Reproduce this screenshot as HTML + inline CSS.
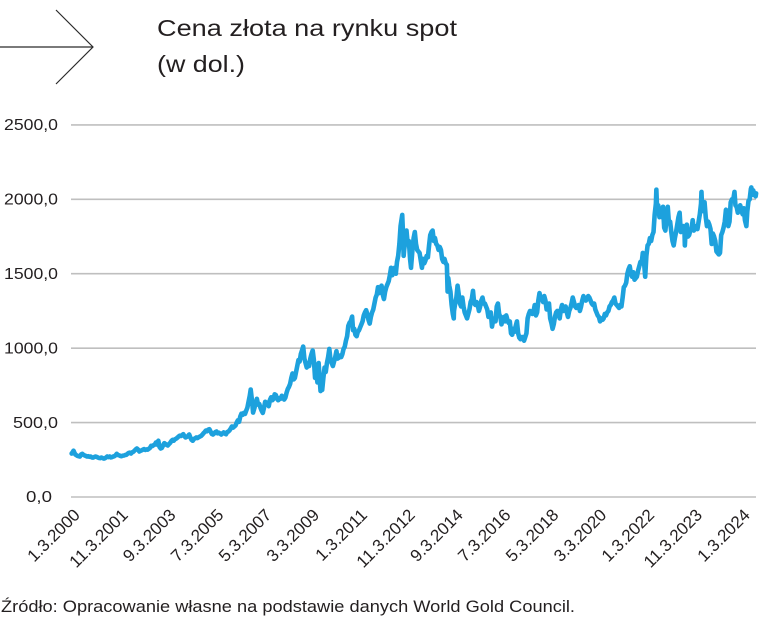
<!DOCTYPE html>
<html><head><meta charset="utf-8"><style>
html,body{margin:0;padding:0;background:#fff;}
svg{display:block;}
text{font-family:"Liberation Sans",sans-serif;fill:#231f20;}
</style></head><body>
<svg width="760" height="619" viewBox="0 0 760 619" xmlns="http://www.w3.org/2000/svg">
<rect width="760" height="619" fill="#fff"/>
<g stroke="#2b2b2b" stroke-width="1.2" fill="none">
<line x1="0" y1="47" x2="93" y2="47"/>
<polyline points="56,10 93,47 56,84"/>
</g>
<text x="157" y="36" font-size="23.5" textLength="300" lengthAdjust="spacingAndGlyphs">Cena złota na rynku spot</text>
<text x="157" y="72" font-size="23.5" textLength="88" lengthAdjust="spacingAndGlyphs">(w dol.)</text>
<g stroke="#bfbfbf" stroke-width="1.6">
<line x1="71" y1="124.9" x2="756" y2="124.9"/>
<line x1="71" y1="199.3" x2="756" y2="199.3"/>
<line x1="71" y1="273.7" x2="756" y2="273.7"/>
<line x1="71" y1="348.2" x2="756" y2="348.2"/>
<line x1="71" y1="422.6" x2="756" y2="422.6"/>
<line x1="71" y1="497" x2="756" y2="497"/>
</g>
<g font-size="16" text-anchor="end">
<text x="58" y="130" textLength="54" lengthAdjust="spacingAndGlyphs">2500,0</text>
<text x="58" y="204.5" textLength="54" lengthAdjust="spacingAndGlyphs">2000,0</text>
<text x="58" y="279" textLength="54" lengthAdjust="spacingAndGlyphs">1500,0</text>
<text x="58" y="353.5" textLength="54" lengthAdjust="spacingAndGlyphs">1000,0</text>
<text x="58" y="428" textLength="45" lengthAdjust="spacingAndGlyphs">500,0</text>
<text x="52" y="502" textLength="26" lengthAdjust="spacingAndGlyphs">0,0</text>
</g>
<g transform="translate(74,497) scale(2.375,-0.14884)">
<polyline fill="none" stroke="#1da1dd" stroke-width="4.6" stroke-linejoin="round" stroke-linecap="round" vector-effect="non-scaling-stroke" points="
-1,292 -0.6,300 -0.2,311 0.2,296 0.6,285 1,281 1.5,276 2,274 2.5,272 3,286 3.5,290 4,283 4.5,279 5,276 5.5,272 6,274 6.5,270 7,272 7.5,266 8,265 8.5,268 9,272 9.5,270
10,266 10.5,262 11,261 11.5,265 12,262 12.5,258 13,260 13.5,266 14,272 14.5,268 15,272 15.5,266 16,268 16.5,272 17,274 17.5,280 18,290 18.5,282 19,280 19.5,276 20,274 20.5,278 21,278 21.5,282
22,283 22.5,290 23,296 23.5,298 24,292 24.5,300 25,304 25.5,312 26,320 26.5,326 27,318 27.5,306 28,310 28.5,314 29,318 29.5,322 30,316 30.5,320 31,318 31.5,324 32,330 32.5,344 33,342 33.5,348
34,352 34.5,366 35,352 35.5,378 36,336 36.5,326 37,330 37.5,346 38,362 38.5,356 39,350 39.5,346 40,356 40.5,364 41,376 41.5,384 42,378 42.5,388 43,392 43.5,398 44,406 44.5,412 45,410 45.5,416
46,422 46.5,408 47,400 47.5,404 48,410 48.5,420 49,400 49.5,384 50,378 50.5,390 51,394 51.5,400 52,396 52.5,402 53,406 53.5,410 54,418 54.5,428 55,436 55.5,446 56,442 56.5,452 57,456 57.5,440
58,424 58.5,420 59,426 59.5,436 60,440 60.5,428 61,432 61.5,426 62,420 62.5,428 63,434 63.5,426 64,422 64.5,436 65,440 65.5,448 66,460 66.5,474 67,466 67.5,474 68,480 68.5,500 69,515 69.5,505
70,540 70.5,560 71,552 71.5,565 72,558 72.5,580 73,600 73.5,640 74,680 74.4,722 75,640 75.4,567 76,600 76.5,635 77,660 77.5,620 78,625 78.5,600 79,580 79.5,565 80,600 80.5,640 81,625 81.5,635
82,610 82.5,652 83,670 83.5,650 84,660 84.5,690 85,685 85.5,660 86,650 86.5,665 87,660 87.5,680 88,670 88.5,655 89,668 89.5,700 90,725 90.5,740 91,760 91.5,800 92,830 92.5,790 93,800 93.5,840
94,880 94.5,920 95,910 95.5,960 96,985 96.5,1011 97,930 97.5,900 98,870 98.5,900 99,880 99.5,930 100,960 100.5,985 101,920 101.5,800 102,830 102.5,770 103,900 103.5,780 103.8,712 104,750 104.5,720 105,800 105.5,870
106,840 106.5,900 107,940 107.5,995 108,920 108.5,900 109,880 109.5,910 110,940 110.5,980 111,930 111.5,935 112,950 112.5,940 113,960 113.5,995 114,1010 114.5,1050 115,1080 115.5,1150 116,1170 116.5,1180 117.1,1212 117.5,1120
118,1130 118.5,1090 119,1080 119.5,1110 120,1120 120.5,1140 121,1160 121.5,1180 122,1220 122.5,1240 123,1255 123.5,1230 124,1190 124.5,1165 125,1210 125.5,1240 126,1260 126.5,1300 127,1340 127.5,1360 128,1410 128.5,1370 129,1400 129.5,1420
130,1360 130.5,1330 131,1380 131.5,1410 132,1430 132.5,1450 133,1490 133.5,1540 134,1490 134.5,1530 135,1540 135.5,1500 136,1580 136.5,1620 137,1700 137.5,1820 138.2,1895 138.5,1780 138.8,1620 139,1660 139.5,1720 140,1790 140.5,1700 141,1720 141.5,1600 141.9,1540
142,1560 142.5,1660 143,1740 143.5,1780 144,1700 144.5,1660 145,1650 145.5,1640 146,1590 146.5,1540 147,1600 147.5,1570 148,1590 148.5,1620 149,1610 149.5,1690 150,1760 150.5,1780 151,1790 151.5,1720 152,1740 152.5,1700 153,1690 153.5,1660
154,1680 154.5,1660 155,1600 155.5,1580 156,1600 156.5,1570 157,1560 157.3,1380 157.6,1470 158,1420 158.5,1380 159,1290 159.5,1230 159.9,1200 160,1250 160.5,1300 161,1340 161.5,1420 162,1360 162.5,1300 163,1280 163.5,1340 164,1280 164.5,1240 165,1220 165.5,1200
166,1230 166.5,1260 167,1310 167.5,1330 168,1385 168.5,1300 169,1290 169.5,1310 170,1290 170.5,1250 171,1280 171.5,1320 172,1340 172.5,1300 173,1300 173.5,1280 174,1260 174.5,1210 175,1220 175.5,1240 176,1145 176.5,1190 177,1200 177.5,1180
178,1280 178.5,1300 179,1230 179.5,1210 180,1160 180.5,1200 181,1210 181.5,1180 182,1220 182.5,1190 183,1170 183.5,1180 184,1100 184.5,1090 185,1130 185.5,1110 186,1150 186.5,1180 187,1100 187.5,1070 188,1060 188.5,1075 189,1075 189.5,1050
190,1075 190.5,1100 191,1200 191.5,1230 192,1250 192.5,1240 193,1230 193.5,1250 194,1290 194.5,1220 195,1240 195.5,1320 196,1370 196.5,1330 197,1340 197.5,1310 198,1350 198.5,1320 199,1260 199.5,1270 200,1300 200.5,1200 201,1170 201.5,1130
202,1160 202.5,1210 203,1240 203.5,1250 204,1230 204.5,1200 205,1260 205.5,1290 206,1250 206.5,1260 207,1280 207.5,1240 208,1210 208.5,1250 209,1270 209.5,1300 210,1340 210.5,1310 211,1280 211.5,1270 212,1280 212.5,1290 213,1250 213.5,1280
214,1320 214.5,1350 215,1330 215.5,1320 216,1330 216.5,1350 217,1340 217.5,1320 218,1300 218.5,1290 219,1300 219.5,1260 220,1240 220.5,1220 221,1210 221.5,1180 222,1200 222.5,1190 223,1200 223.5,1230 224,1220 224.5,1240 225,1250 225.5,1280
226,1290 226.5,1310 227,1320 227.5,1340 228,1300 228.5,1290 229,1280 229.5,1270 230,1290 230.5,1280 231,1340 231.5,1410 232,1420 232.5,1440 233,1500 233.5,1530 234,1550 234.5,1500 235,1480 235.5,1510 236,1460 236.5,1470 237,1480 237.5,1520
238,1550 238.5,1580 239,1570 239.5,1640 240,1580 240.5,1480 241,1620 241.5,1690 242,1700 242.5,1740 243,1720 243.5,1760 244,1780 244.5,1900 245,1970 245.2,2065 245.5,1940 246,1960 246.5,1880 247,1900 247.5,1880 248,1950 248.5,1810 249,1790 249.5,1870
250,1950 250.5,1840 251,1850 251.5,1780 252,1720 252.5,1690 253,1740 253.5,1780 254,1830 254.5,1880 255,1910 255.5,1780 256,1790 256.5,1820 257,1810 257.2,1690 257.5,1780 258,1830 258.5,1750 259,1760 259.5,1790 260,1800 260.5,1860 261,1790 261.5,1810
262,1820 262.5,1800 263,1850 263.5,1900 264,1970 264.2,2050 264.5,1920 265,1940 265.5,1980 266,1880 266.5,1820 267,1850 267.5,1830 268,1800 268.5,1700 269,1770 269.5,1750 270,1720 270.5,1650 271,1640 271.5,1630 272,1640 272.5,1760 273,1780 273.5,1810
274,1850 274.5,1930 275,1880 275.5,1820 276,1850 276.5,1980 277,2000 277.5,1990 278.1,2050 278.5,1960 279,1950 279.5,1910 280,1930 280.5,1960 281,1930 281.5,1900 282,1940 282.5,1860 283.1,1820 283.5,1920 284,1990 284.5,2000 285,2070 285.2,2080 285.5,2030
286,2060 286.5,2030 287,2020 287.2,2040"/>
</g>
<g font-size="17">
<text transform="translate(81,516) rotate(-45)" text-anchor="end">1.3.2000</text>
<text transform="translate(128.9,516) rotate(-45)" text-anchor="end">11.3.2001</text>
<text transform="translate(176.7,516) rotate(-45)" text-anchor="end">9.3.2003</text>
<text transform="translate(224.6,516) rotate(-45)" text-anchor="end">7.3.2005</text>
<text transform="translate(272.4,516) rotate(-45)" text-anchor="end">5.3.2007</text>
<text transform="translate(320.3,516) rotate(-45)" text-anchor="end">3.3.2009</text>
<text transform="translate(368.2,516) rotate(-45)" text-anchor="end">1.3.2011</text>
<text transform="translate(416,516) rotate(-45)" text-anchor="end">11.3.2012</text>
<text transform="translate(463.9,516) rotate(-45)" text-anchor="end">9.3.2014</text>
<text transform="translate(511.7,516) rotate(-45)" text-anchor="end">7.3.2016</text>
<text transform="translate(559.6,516) rotate(-45)" text-anchor="end">5.3.2018</text>
<text transform="translate(607.5,516) rotate(-45)" text-anchor="end">3.3.2020</text>
<text transform="translate(655.3,516) rotate(-45)" text-anchor="end">1.3.2022</text>
<text transform="translate(703.2,516) rotate(-45)" text-anchor="end">11.3.2023</text>
<text transform="translate(751,516) rotate(-45)" text-anchor="end">1.3.2024</text>
</g>
<text x="1" y="612" font-size="16.5" textLength="574" lengthAdjust="spacingAndGlyphs">Źródło: Opracowanie własne na podstawie danych World Gold Council.</text>
</svg>
</body></html>
